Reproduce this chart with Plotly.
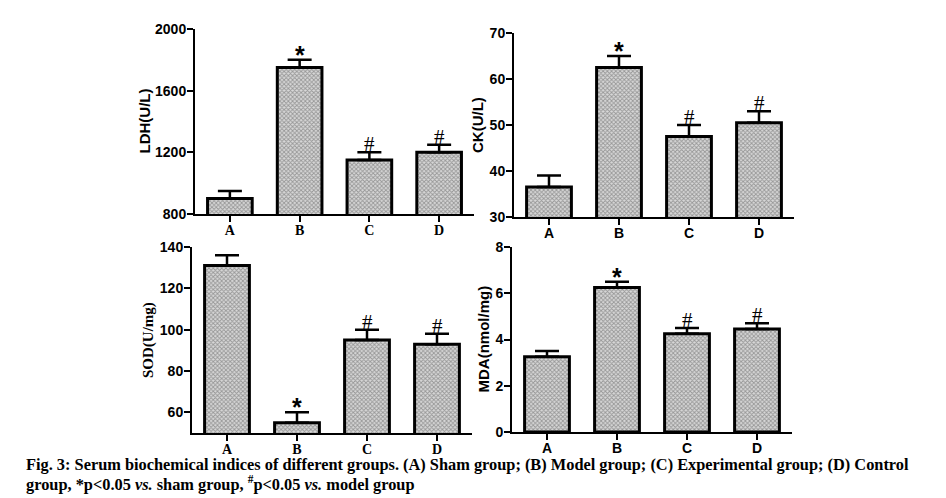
import plotly.graph_objects as go

# the page body adds an 8px margin around the figure
W = 946 - 8
H = 498 - 8
OFF = 8

groups = ['A', 'B', 'C', 'D']

ldh_values = [900, 1750, 1150, 1200]
ldh_errors = [50, 50, 50, 50]
ldh_marks = ['', '*', '#', '#']

ck_values = [36.5, 62.5, 47.5, 50.5]
ck_errors = [2.5, 2.5, 2.5, 2.5]
ck_marks = ['', '*', '#', '#']

sod_values = [131, 55, 95, 93]
sod_errors = [5, 5, 5, 5]
sod_marks = ['', '*', '#', '#']

mda_values = [3.25, 6.25, 4.25, 4.45]
mda_errors = [0.25, 0.25, 0.25, 0.25]
mda_marks = ['', '*', '#', '#']

caption_1 = 'Fig. 3: Serum biochemical indices of different groups. (A) Sham group; (B) Model group; (C) Experimental group; (D) Control'
caption_2 = "group, *p&lt;0.05 <i>vs.</i> sham group, <sup>#</sup>p&lt;0.05 <i>vs.</i> model group"

SANS = 'Liberation Sans'
SERIF = 'Liberation Serif'

# pixel boxes of the four panels: left, right, top, bottom; tx is the y title's x centre
panels = [
    dict(title='LDH(U/L)', v=ldh_values, e=ldh_errors, m=ldh_marks, yr=[800, 2000], ticks=[800, 1200, 1600, 2000],
         box=(195, 474, 29, 214), xfont=SERIF, tfont=SANS, tx=144, n=''),
    dict(title='CK(U/L)', v=ck_values, e=ck_errors, m=ck_marks, yr=[30, 70], ticks=[30, 40, 50, 60, 70],
         box=(514, 794, 33, 217), xfont=SANS, tfont=SANS, tx=478, n='2'),
    dict(title='SOD(U/mg)', v=sod_values, e=sod_errors, m=sod_marks, yr=[50, 140], ticks=[60, 80, 100, 120, 140],
         box=(192, 472, 247, 433), xfont=SERIF, tfont=SERIF, tx=148, n='3'),
    dict(title='MDA(nmol/mg)', v=mda_values, e=mda_errors, m=mda_marks, yr=[0, 8], ticks=[0, 2, 4, 6, 8],
         box=(512, 792, 247, 432), xfont=SANS, tfont=SANS, tx=483, n='4'),
]

fig = go.Figure()
layout = {}
for p in panels:
    l, r, t, b = p['box']
    xref = 'x' + p['n']
    yref = 'y' + p['n']
    fig.add_trace(go.Bar(
        x=groups, y=p['v'], xaxis=xref, yaxis=yref, width=0.64,
        marker=dict(color='#d8d8d8', line=dict(color='black', width=3),
                    pattern=dict(shape='x', fgcolor='#555555', bgcolor='#d8d8d8', size=3, solidity=0.5)),
        error_y=dict(type='data', symmetric=False, array=p['e'], arrayminus=[0] * 4,
                     color='black', thickness=2.5, width=12),
    ))
    for g, v, e, mark in zip(groups, p['v'], p['e'], p['m']):
        if mark:
            fig.add_annotation(
                x=g, y=v + e, xref=xref, yref=yref, text=mark, showarrow=False, yanchor='middle',
                yshift=5 if mark == '*' else 8,
                font=dict(family=SANS if mark == '*' else SERIF, size=25 if mark == '*' else 21,
                          color='black', weight='bold' if mark == '*' else 'normal'),
            )
    layout['xaxis' + p['n']] = dict(
        domain=[(l - OFF) / W, (r - OFF) / W], anchor=yref, range=[-0.5, 3.5], type='category',
        showline=True, linecolor='black', linewidth=2, ticks='outside', ticklen=6, tickwidth=2,
        tickcolor='black', showgrid=False, zeroline=False, ticklabelstandoff=-4,
        tickfont=dict(family=p['xfont'], size=14, color='black', weight='bold'),
    )
    layout['yaxis' + p['n']] = dict(
        domain=[1 - (b - OFF) / H, 1 - (t - OFF) / H], anchor=xref, range=p['yr'],
        tickmode='array', tickvals=p['ticks'], automargin=False,
        showline=True, linecolor='black', linewidth=2, ticks='outside', ticklen=6, tickwidth=2,
        tickcolor='black', showgrid=False, zeroline=False, ticklabelstandoff=-2,
        tickfont=dict(family=SANS, size=14, color='black', weight='bold'),
    )
    fig.add_annotation(
        text=p['title'], xref='paper', yref='paper', x=(p['tx'] - OFF) / W, y=1 - ((t + b) / 2 - OFF) / H,
        textangle=-90, showarrow=False, xanchor='center', yanchor='middle',
        font=dict(family=p['tfont'], size=15, color='black', weight='bold'),
    )

fig.update_layout(
    width=W, height=H, margin=dict(l=0, r=0, t=0, b=0), showlegend=False,
    paper_bgcolor='white', plot_bgcolor='white', **layout,
)
for text, ypos in [(caption_1, 464), (caption_2, 483)]:
    fig.add_annotation(
        text=text, xref='paper', yref='paper', x=(24 - OFF) / W, y=1 - (ypos - OFF) / H, xanchor='left', yanchor='middle',
        showarrow=False, font=dict(family=SERIF, size=16.35, color='black', weight='bold'),
    )
fig.write_html("out.html")
